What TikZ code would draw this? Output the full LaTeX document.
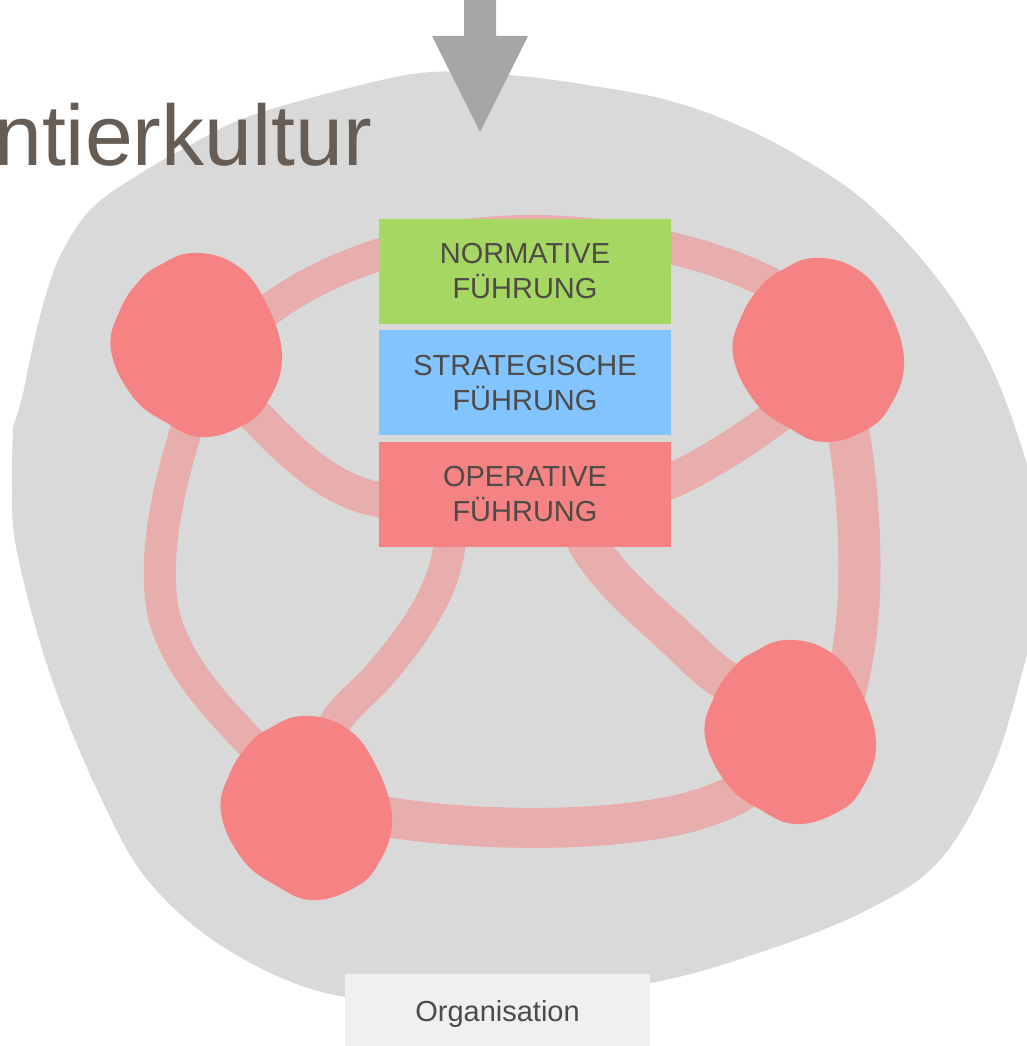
\documentclass[tikz,border=0pt]{standalone}
\usepackage{fontspec}
\setmainfont{Liberation Sans}
\usepackage{tikz}
\usetikzlibrary{positioning,backgrounds}
\definecolor{blobgray}{RGB}{217,217,217}
\definecolor{arrowgray}{RGB}{166,166,166}
\definecolor{linkred}{RGB}{232,173,173}
\definecolor{cellred}{RGB}{245,131,131}
\definecolor{normgreen}{RGB}{166,215,98}
\definecolor{stratblue}{RGB}{130,196,255}
\definecolor{labeltext}{RGB}{80,74,70}
\definecolor{titletext}{RGB}{102,94,86}
\definecolor{orgfill}{RGB}{240,240,240}

\begin{document}
\begin{tikzpicture}[x=1pt,y=-1pt,
  level/.style={rectangle,minimum width=292pt,minimum height=105pt,inner sep=0pt,text=labeltext,align=center,font=\fontsize{29}{35}\selectfont},
  cell/.style={circle,minimum size=150pt,inner sep=0pt},
  link/.style={draw=linkred,line width=32pt},
  redblob/.pic={\fill[cellred] plot[smooth cycle,tension=0.7] coordinates {(-4,-92) (37,-82) (67,-48) (86,10) (71,58) (44,82) (5,92) (-29,78) (-63,52) (-85,5) (-76,-35) (-56,-65) (-36,-80)};}]
\useasboundingbox (0,0) rectangle (1027,1046);

\node[anchor=base west,inner sep=0pt,text=titletext,font=\fontsize{86}{100}\selectfont] (title) at (-6,165) {ntierkultur};

\coordinate (inflow) at (480,132);
\fill[arrowgray] (inflow) -- ++(48,-96) -- ++(-32,0) -- ++(0,-50) -- ++(-32,0) -- ++(0,50) -- ++(-32,0) -- cycle;

\node[cell] (cellnw) at (196,345) {};
\node[cell] (cellne) at (818,350) {};
\node[cell] (cellse) at (790,732) {};
\node[cell] (cellsw) at (306,808) {};
\foreach \c in {cellnw,cellne,cellse,cellsw}
  \path (\c) pic {redblob};

\node[level,fill=normgreen] (normative) at (525,271.5) {NORMATIVE\\FÜHRUNG};
\node[level,fill=stratblue,below=6pt of normative] (strategic) {STRATEGISCHE\\FÜHRUNG};
\node[level,fill=cellred,below=6pt of strategic] (operative) {OPERATIVE\\FÜHRUNG};

\node[fill=orgfill,minimum width=305pt,minimum height=80pt,inner sep=0pt,text=labeltext,font=\fontsize{29}{35}\selectfont] (org) at (497.5,1014) {Organisation};

\begin{scope}[on background layer]
\fill[blobgray] plot[smooth,tension=0.6] coordinates {(13,427) (22,398) (32,350) (45,298) (62,252) (92,208) (138,175) (192,144) (250,116) (357,86) (432,72) (520,76) (600,87) (667,100) (733,123) (800,157) (867,203) (933,273) (983,350) (1017,433) (1040,520) (1040,600) (1027,655) (993,767) (940,860) (867,910) (767,950) (650,983) (500,998) (345,997) (233,953) (150,883) (100,796) (50,674) (17,552) (12,490) (13,427)} -- cycle;
\draw[link] (cellnw.25) .. controls (330,262) and (430,232) .. (525,231) .. controls (620,230) and (720,255) .. (cellne.123);
\draw[link,line width=35pt] (cellnw.-51) .. controls (285,445) and (330,500) .. (400,502) .. controls (500,505) and (620,500) .. (671,481) .. controls (705,466) and (745,440) .. (cellne.239);
\draw[link] (cellnw.-95) .. controls (170,480) and (150,560) .. (165,620) .. controls (182,675) and (225,715) .. (cellsw.130);
\draw[link] ([xshift=-75pt,yshift=10pt]operative.south) .. controls (448,590) and (410,640) .. (375,680) .. controls (355,700) and (335,715) .. (cellsw.72);
\draw[link,line width=40pt] ([xshift=60pt,yshift=10pt]operative.south) .. controls (600,570) and (640,605) .. (670,632) .. controls (695,655) and (712,675) .. (cellse.140);
\draw[link,line width=42pt] (cellne.-68) .. controls (858,480) and (862,560) .. (858,610) .. controls (855,650) and (848,680) .. ([shift={(53,-32)}]cellse.center);
\draw[link,line width=40pt] (cellsw.-6) .. controls (460,830) and (600,835) .. (690,812) .. controls (720,803) and (740,795) .. ([shift={(-35,49)}]cellse.center);
\end{scope}

\end{tikzpicture}
\end{document}
